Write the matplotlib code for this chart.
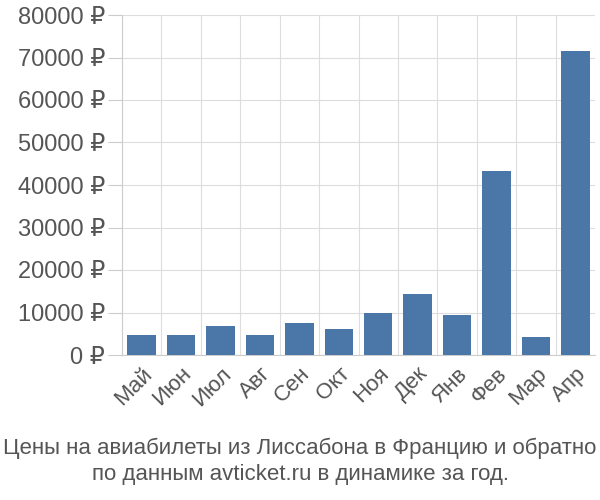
import matplotlib
matplotlib.use("Agg")
import matplotlib.pyplot as plt
import numpy as np

months = ["Май","Июн","Июл","Авг","Сен","Окт","Ноя","Дек","Янв","Фев","Мар","Апр"]
prices = [4800, 4800, 6900, 4800, 7600, 6200, 9900, 14400, 9300, 43300, 4200, 71500]
yticks = list(range(0, 80001, 10000))

plt.rcParams['font.family'] = ['Liberation Sans', 'DejaVu Sans']
fig = plt.figure(figsize=(6, 5), dpi=100)
ax = fig.add_axes([0.203, 0.29, 0.789, 0.68])
x = np.arange(len(months))
ax.bar(x, prices, width=0.72, color="#4a76a8", zorder=3)
ax.set_xlim(-0.5, len(months) - 0.5)
ax.set_ylim(0, 80000)
ax.set_yticks(yticks)
ax.set_yticklabels([f"{v} ₽" for v in yticks], fontsize=17, color="#555555")
ax.set_xticks(x)
ax.set_xticklabels(months, rotation=45, ha="right", rotation_mode="anchor", fontsize=16, color="#555555")
ax.set_xticks(np.arange(-0.5, len(months)), minor=True)
ax.tick_params(axis="x", which="major", length=0, pad=6)
ax.tick_params(axis="x", which="minor", length=0)
ax.tick_params(axis="y", length=10, color="#cccccc", pad=2)
ax.grid(axis="y", which="major", color="#dddddd", zorder=0)
ax.grid(axis="x", which="minor", color="#dddddd", zorder=0)
for s in ["top", "right"]:
    ax.spines[s].set_visible(False)
ax.spines["left"].set_color("#cccccc")
ax.spines["bottom"].set_color("#cccccc")
fig.text(0.5, 0.078, "Цены на авиабилеты из Лиссабона в Францию и обратно\nпо данным avticket.ru в динамике за год.",
         ha="center", va="center", fontsize=16, color="#555555", linespacing=1.3)
fig.savefig("out.png", dpi=100)
